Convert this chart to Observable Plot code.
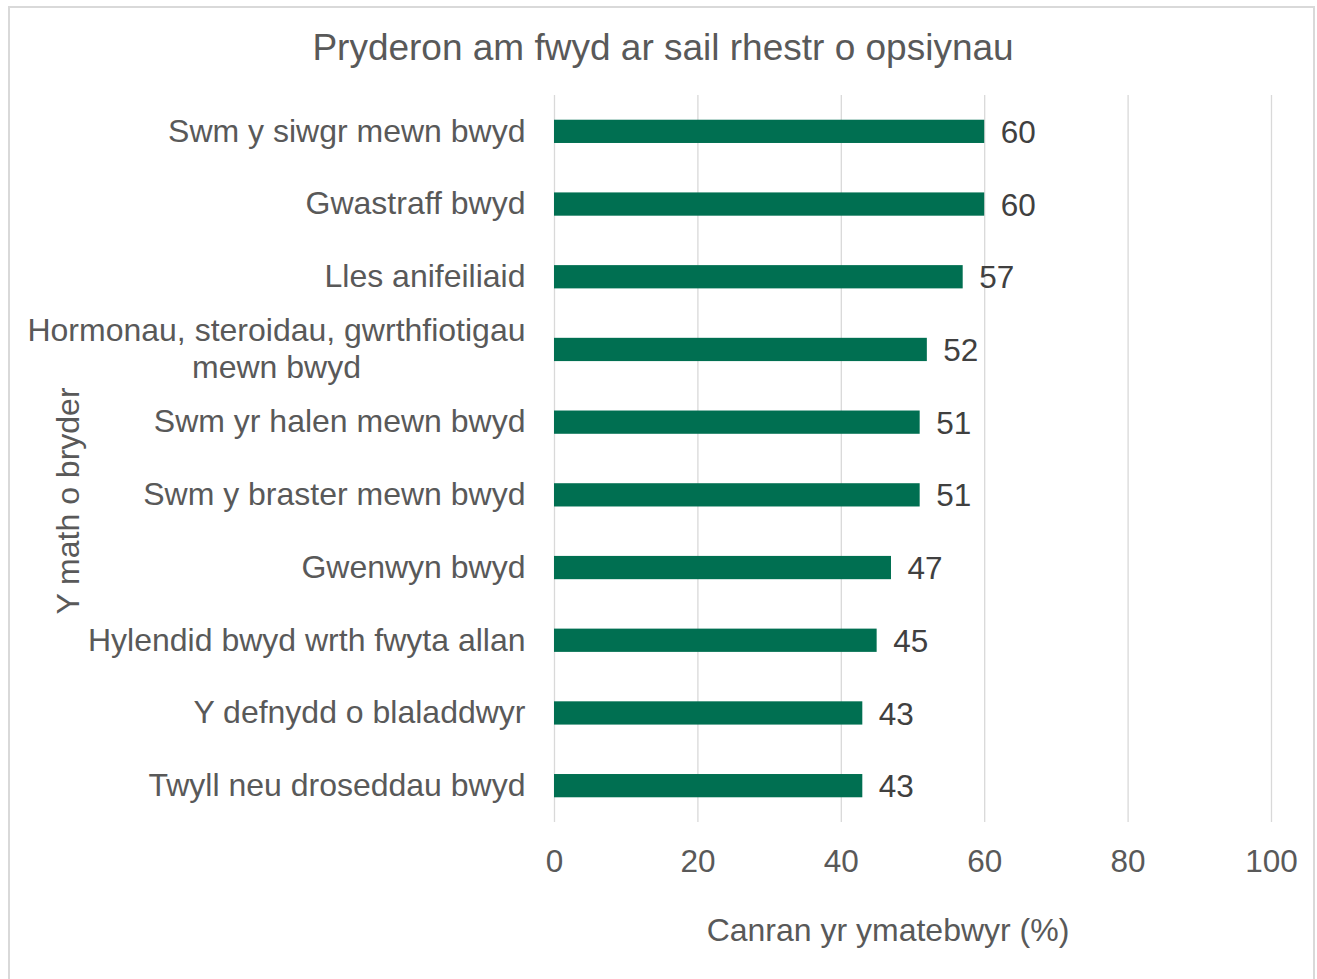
<!DOCTYPE html>
<html>
<head>
<meta charset="utf-8">
<script src="https://cdn.jsdelivr.net/npm/d3@7"></script>
<script src="https://cdn.jsdelivr.net/npm/@observablehq/plot@0.6"></script>
<style>
  html, body { margin: 0; padding: 0; background: #ffffff; }
  #wrap { position: relative; width: 1317px; height: 979px; overflow: hidden; }
  #frame { position: absolute; left: 8px; top: 6px; width: 1307px; height: 990px; border: 2px solid #d9d9d9; box-sizing: border-box; }
  #chart { position: absolute; left: 0; top: 0; }
</style>
</head>
<body>
<div id="wrap"><div id="frame"></div><div id="chart"></div></div>
<script>
const title = "Pryderon am fwyd ar sail rhestr o opsiynau";
const xTitle = "Canran yr ymatebwyr (%)";
const yTitle = "Y math o bryder";
const categories = [
  "Swm y siwgr mewn bwyd",
  "Gwastraff bwyd",
  "Lles anifeiliaid",
  "Hormonau, steroidau, gwrthfiotigau mewn bwyd",
  "Swm yr halen mewn bwyd",
  "Swm y braster mewn bwyd",
  "Gwenwyn bwyd",
  "Hylendid bwyd wrth fwyta allan",
  "Y defnydd o blaladdwyr",
  "Twyll neu droseddau bwyd"
];
const tickLabels = [
  "Swm y siwgr mewn bwyd",
  "Gwastraff bwyd",
  "Lles anifeiliaid",
  "Hormonau, steroidau, gwrthfiotigau\nmewn bwyd",
  "Swm yr halen mewn bwyd",
  "Swm y braster mewn bwyd",
  "Gwenwyn bwyd",
  "Hylendid bwyd wrth fwyta allan",
  "Y defnydd o blaladdwyr",
  "Twyll neu droseddau bwyd"
];
const values = [60, 60, 57, 52, 51, 51, 47, 45, 43, 43];
const xTicks = [0, 20, 40, 60, 80, 100];

const data = categories.map((c, i) => ({category: c, value: values[i]}));
const labelOf = new Map(categories.map((c, i) => [c, tickLabels[i]]));

const textColor = "#595959";
const fs = 32;

const chart = Plot.plot({
  width: 1317,
  height: 979,
  marginLeft: 554,
  marginRight: 46,
  marginTop: 95,
  marginBottom: 157,
  style: {fontFamily: "'Liberation Sans', Arial, sans-serif", fontSize: fs + "px", color: textColor, background: "transparent", overflow: "visible"},
  x: {domain: [0, 100], ticks: xTicks},
  y: {domain: categories, paddingInner: 0.68, paddingOuter: 0.34, round: false},
  marks: [
    Plot.gridX(xTicks, {stroke: "#d9d9d9", strokeOpacity: 1, strokeWidth: 1.3}),
    Plot.barX(data, {x: "value", y: "category", fill: "#006F51"}),
    Plot.text(data, {x: "value", y: "category", text: d => String(d.value), textAnchor: "start", dx: 16, dy: 1, fill: "#404040", fontSize: 31.5}),
    Plot.axisX({ticks: xTicks, tickSize: 0, tickPadding: 27, label: null, fill: textColor, fontSize: 31.5}),
    Plot.axisY({tickSize: 0, tickPadding: 29, dy: -2, label: null, tickFormat: d => labelOf.get(d), lineHeight: 1.15, fill: textColor, fontSize: fs}),
    Plot.text([title], {text: d => d, frameAnchor: "top", lineAnchor: "middle", dx: -250, dy: -47, fontSize: 37, fill: textColor}),
    Plot.text([xTitle], {text: d => d, frameAnchor: "bottom", lineAnchor: "middle", dx: -25, dy: 108, fontSize: fs, fill: textColor}),
    Plot.text([yTitle], {text: d => d, frameAnchor: "left", textAnchor: "middle", lineAnchor: "middle", rotate: -90, dx: -486, dy: 42, fontSize: fs, fill: textColor})
  ]
});

document.getElementById("chart").appendChild(chart);

// Center multi-line tick labels within their block (as in the original)
chart.querySelectorAll('g[aria-label="y-axis tick label"] text').forEach(t => {
  const spans = t.querySelectorAll("tspan");
  if (spans.length > 1) {
    let w = 0;
    spans.forEach(s => { w = Math.max(w, s.getComputedTextLength()); });
    t.setAttribute("text-anchor", "middle");
    const tr = t.getAttribute("transform") || "";
    t.setAttribute("transform", tr + ` translate(${-w / 2},0)`);
  }
});
</script>
</body>
</html>
